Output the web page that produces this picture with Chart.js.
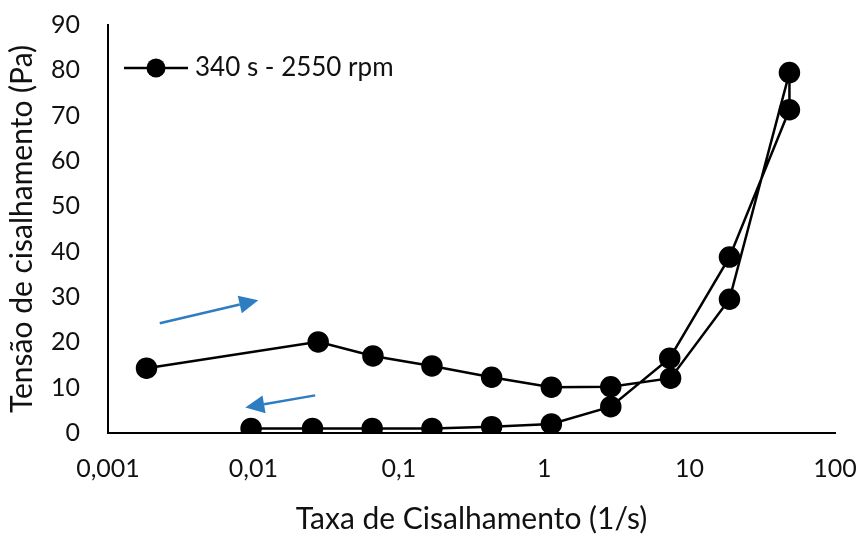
<!DOCTYPE html>
<html>
<head>
<meta charset="utf-8">
<script src="https://cdn.jsdelivr.net/npm/chart.js@4/dist/chart.umd.min.js"></script>
<style>
html,body{margin:0;padding:0;background:#fff;}
#wrap{width:860px;height:534px;}
</style>
</head>
<body>
<div id="wrap"><canvas id="c" width="860" height="534"></canvas></div>
<script>
// Shear rate (1/s): up sweep then down sweep
const shearRate = [0.00184, 0.0279, 0.0664, 0.169, 0.435, 1.12, 2.87, 7.4, 18.8, 48.6,
                   48.6, 18.8, 7.3, 2.87, 1.12, 0.435, 0.169, 0.0656, 0.0255, 0.00964];
// Shear stress (Pa)
const shearStress = [14.3, 20.1, 17.0, 14.8, 12.3, 10.1, 10.2, 12.1, 29.5, 79.5,
                     71.3, 38.8, 16.5, 5.8, 2.0, 1.4, 1.0, 1.0, 1.0, 1.0];
const seriesLabel = "340 s - 2550 rpm";
const xTickValues = [0.001, 0.01, 0.1, 1, 10, 100];
const xTickLabels = ["0,001", "0,01", "0,1", "1", "10", "100"];
const yTickValues = [0, 10, 20, 30, 40, 50, 60, 70, 80, 90];
// Direction arrows in data coordinates: [x0, y0, x1, y1]
const arrowUp = [0.00227, 24.2, 0.0108, 29.3];
const arrowDown = [0.0266, 8.3, 0.0088, 5.6];

const FONT = "Lato, 'Open Sans', sans-serif";

const points = shearRate.map((x, i) => ({x: x, y: shearStress[i]}));

const arrowPlugin = {
  id: 'arrows',
  afterDatasetsDraw(chart) {
    const ctx = chart.ctx, xs = chart.scales.x, ys = chart.scales.y;
    [arrowUp, arrowDown].forEach(a => {
      const x0 = xs.getPixelForValue(a[0]), y0 = ys.getPixelForValue(a[1]);
      const x1 = xs.getPixelForValue(a[2]), y1 = ys.getPixelForValue(a[3]);
      const ang = Math.atan2(y1 - y0, x1 - x0);
      const hl = 19, hw = 9;
      const bx = x1 - hl * Math.cos(ang), by = y1 - hl * Math.sin(ang);
      ctx.save();
      ctx.strokeStyle = '#2E7DC2';
      ctx.fillStyle = '#2E7DC2';
      ctx.lineWidth = 2.5;
      ctx.beginPath();
      ctx.moveTo(x0, y0);
      ctx.lineTo(bx, by);
      ctx.stroke();
      ctx.beginPath();
      ctx.moveTo(x1, y1);
      ctx.lineTo(bx + hw * Math.sin(ang), by - hw * Math.cos(ang));
      ctx.lineTo(bx - hw * Math.sin(ang), by + hw * Math.cos(ang));
      ctx.closePath();
      ctx.fill();
      ctx.restore();
    });
  }
};

const legendPlugin = {
  id: 'innerLegend',
  afterDraw(chart) {
    const ctx = chart.ctx, area = chart.chartArea;
    const lx = area.left + 16, ly = area.top + 43;
    ctx.save();
    ctx.strokeStyle = '#000';
    ctx.lineWidth = 2.5;
    ctx.beginPath();
    ctx.moveTo(lx, ly);
    ctx.lineTo(lx + 64, ly);
    ctx.stroke();
    ctx.fillStyle = '#000';
    ctx.beginPath();
    ctx.arc(lx + 32, ly, 9.5, 0, Math.PI * 2);
    ctx.fill();
    ctx.font = "26px " + FONT;
    ctx.textBaseline = 'middle';
    ctx.textAlign = 'left';
    ctx.fillStyle = '#111';
    ctx.fillText(chart.data.datasets[0].label, lx + 71, ly);
    ctx.restore();
  }
};

new Chart(document.getElementById('c'), {
  type: 'scatter',
  data: {
    datasets: [{
      label: seriesLabel,
      data: points,
      showLine: true,
      borderColor: '#000',
      backgroundColor: '#000',
      borderWidth: 2.5,
      pointRadius: 9.5,
      pointHoverRadius: 9.5,
      pointBackgroundColor: '#000',
      pointBorderColor: '#000',
      tension: 0
    }]
  },
  options: {
    responsive: false,
    animation: false,
    devicePixelRatio: 1,
    layout: {padding: {left: 0, right: 25, top: 25, bottom: 0}},
    plugins: {legend: {display: false}, tooltip: {enabled: false}},
    scales: {
      x: {
        type: 'logarithmic',
        min: 0.001,
        max: 100,
        afterBuildTicks: (s) => { s.ticks = xTickValues.map(v => ({value: v})); },
        afterFit: (s) => { s.height = 101; s.paddingLeft = 0; s.paddingRight = 0; },
        ticks: {
          callback: (v) => { const i = xTickValues.indexOf(v); return i >= 0 ? xTickLabels[i] : ''; },
          color: '#111',
          font: {family: FONT, size: 25},
          padding: 21,
          maxRotation: 0,
          autoSkip: false
        },
        grid: {display: false, drawTicks: false},
        border: {display: true, color: '#000', width: 2},
        title: {display: true, text: 'Taxa de Cisalhamento (1/s)', color: '#111',
                font: {family: FONT, size: 30}, padding: {top: 0, bottom: -3}}
      },
      y: {
        min: 0,
        max: 90,
        afterBuildTicks: (s) => { s.ticks = yTickValues.map(v => ({value: v})); },
        afterFit: (s) => { s.width = 108; s.paddingTop = 0; s.paddingBottom = 0; },
        ticks: {
          color: '#111',
          font: {family: FONT, size: 25},
          padding: 28
        },
        grid: {display: false, drawTicks: false},
        border: {display: true, color: '#000', width: 2},
        title: {display: true, text: 'Tensão de cisalhamento (Pa)', color: '#111',
                font: {family: FONT, size: 30}, padding: {top: 4, bottom: 0}}
      }
    }
  },
  plugins: [arrowPlugin, legendPlugin]
});
</script>
</body>
</html>
